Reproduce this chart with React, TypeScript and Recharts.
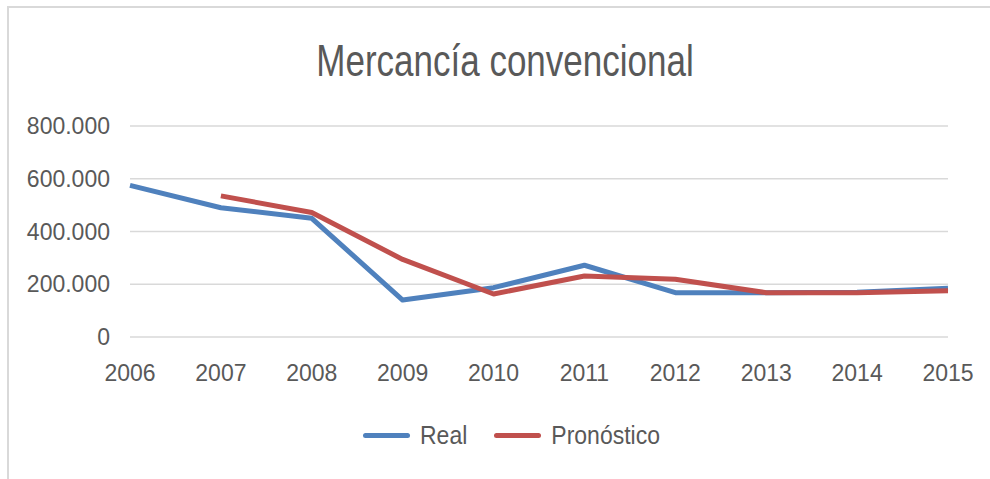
import { LineChart, Line, XAxis, YAxis, CartesianGrid, Legend } from "recharts"

const years = ["2006", "2007", "2008", "2009", "2010", "2011", "2012", "2013", "2014", "2015"]
const real = [575000, 490000, 450000, 140000, 187000, 272000, 168000, 168000, 170000, 185000]
const pronostico = [null, 535000, 472000, 294000, 163000, 231000, 219000, 168000, 168000, 175000]
const yTicks = [0, 200000, 400000, 600000, 800000]

const data = years.map((year, i) => ({ year, real: real[i], pronostico: pronostico[i] }))

const FONT = "'Liberation Sans', Arial, sans-serif"
const TEXT = "#595959"
const BLUE = "#4F81BD"
const RED = "#C0504D"

const fmt = (v: number) => (v === 0 ? "0" : v.toLocaleString("de-DE"))

const legendItems = [
  { label: "Real", color: BLUE },
  { label: "Pronóstico", color: RED },
]

function ChartLegend() {
  return (
    <div style={{ display: "flex", alignItems: "center", fontFamily: FONT, fontSize: 23, color: TEXT }}>
      {legendItems.map((it, i) => (
        <div key={it.label} style={{ display: "flex", alignItems: "center", marginLeft: i ? 27 : 0 }}>
          <div style={{ width: 47, height: 5, background: it.color, borderRadius: 3, marginRight: 10 }} />
          <span style={{ display: "inline-block", transform: "scaleY(1.12)" }}>{it.label}</span>
        </div>
      ))}
    </div>
  )
}

export default function App() {
  return (
    <div style={{ position: "relative", width: 990, height: 479, background: "#fff", overflow: "hidden" }}>
      <style>{"body{margin:0}"}</style>
      <div
        style={{
          position: "absolute",
          left: 7,
          top: 6,
          width: 1000,
          height: 500,
          borderTop: "2px solid #D9D9D9",
          borderLeft: "2px solid #D9D9D9",
        }}
      />
      <div
        style={{
          position: "absolute",
          top: 36,
          left: 0,
          width: 1010,
          textAlign: "center",
          fontFamily: FONT,
          fontSize: 35,
          color: TEXT,
          lineHeight: "40px",
          transform: "scaleY(1.25)",
          transformOrigin: "top",
        }}
      >
        Mercancía convencional
      </div>
      <LineChart width={990} height={479} data={data} margin={{ top: 126, right: 42, left: 0, bottom: 82 }}>
        <CartesianGrid vertical={false} stroke="#D9D9D9" strokeWidth={1.5} />
        <XAxis
          dataKey="year"
          axisLine={false}
          tickLine={false}
          tickMargin={22}
          height={60}
          interval={0}
          tick={{ fill: TEXT, fontSize: 23, fontFamily: FONT }}
        />
        <YAxis
          domain={[0, 800000]}
          ticks={yTicks}
          width={130}
          axisLine={false}
          tickLine={false}
          tickMargin={14}
          tickFormatter={fmt}
          tick={{ fill: TEXT, fontSize: 23, fontFamily: FONT }}
        />
        <Legend
          verticalAlign="middle"
          align="center"
          layout="horizontal"
          wrapperStyle={{ top: 422, left: 363, width: "auto" }}
          content={() => <ChartLegend />}
        />
        <Line
          dataKey="real"
          name="Real"
          stroke={BLUE}
          strokeWidth={5}
          dot={false}
          activeDot={false}
          strokeLinejoin="round"
          isAnimationActive={false}
        />
        <Line
          dataKey="pronostico"
          name="Pronóstico"
          stroke={RED}
          strokeWidth={5}
          dot={false}
          activeDot={false}
          strokeLinejoin="round"
          isAnimationActive={false}
        />
      </LineChart>
    </div>
  )
}
